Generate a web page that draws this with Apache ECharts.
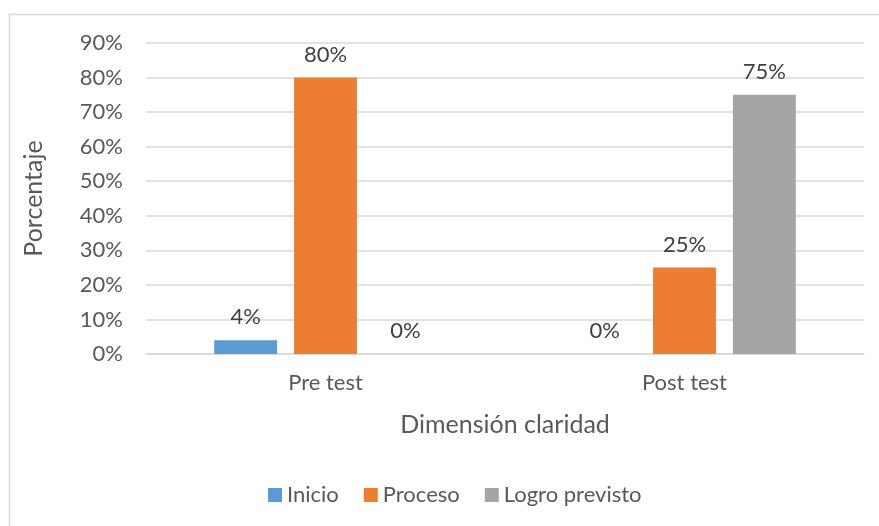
<!DOCTYPE html>
<html>
<head>
<meta charset="utf-8">
<script src="https://cdn.jsdelivr.net/npm/echarts@6/dist/echarts.min.js"></script>
<style>html,body{margin:0;padding:0;background:#fff}#c{width:879px;height:526px}</style>
</head>
<body>
<div id="c"></div>
<script>
const categories = ['Pre test', 'Post test'];
const seriesNames = ['Inicio', 'Proceso', 'Logro previsto'];
const inicio = [4, 0];
const proceso = [80, 25];
const logro = [0, 75];
const colors = ['#5B9BD5', '#ED7D31', '#A5A5A5'];
const FONT = 'Lato';

const chart = echarts.init(document.getElementById('c'));
const labelStyle = {
  show: true, position: 'top', distance: 12,
  formatter: p => p.value + '%',
  color: '#404040', fontSize: 22, fontFamily: FONT
};
const values = [inicio, proceso, logro];
chart.setOption({
  animation: false,
  backgroundColor: '#fff',
  color: colors,
  textStyle: { fontFamily: FONT },
  graphic: [{
    type: 'rect', shape: { x: 9.5, y: 14.5, width: 900, height: 600 },
    style: { fill: 'none', stroke: '#D9D9D9', lineWidth: 1.5 }, silent: true, z: -1
  }],
  grid: { left: 146, right: 15, top: 43, bottom: 172 },
  legend: {
    bottom: 15, left: 263,
    itemWidth: 14, itemHeight: 14, itemGap: 25,
    icon: 'rect',
    textStyle: { color: '#595959', fontSize: 22, fontFamily: FONT },
    data: seriesNames
  },
  xAxis: {
    type: 'category', data: categories,
    name: 'Dimensión claridad', nameLocation: 'middle', nameGap: 58,
    nameTextStyle: { color: '#595959', fontSize: 25, fontFamily: FONT },
    axisLine: { lineStyle: { color: '#D9D9D9', width: 1.5 } },
    axisTick: { show: false },
    axisLabel: { color: '#595959', fontSize: 22, fontFamily: FONT, margin: 18 }
  },
  yAxis: {
    type: 'value', min: 0, max: 90, interval: 10,
    name: 'Porcentaje', nameLocation: 'middle', nameGap: 100,
    nameTextStyle: { color: '#595959', fontSize: 25, fontFamily: FONT },
    axisLine: { show: false }, axisTick: { show: false },
    splitLine: { lineStyle: { color: '#D9D9D9', width: 1.5 } },
    axisLabel: { color: '#595959', fontSize: 22, fontFamily: FONT, margin: 23, formatter: v => v + '%' }
  },
  series: seriesNames.map((n, i) => ({
    name: n, type: 'bar', data: values[i],
    barGap: '27%', barCategoryGap: '38%',
    label: labelStyle
  }))
});
</script>
</body>
</html>
